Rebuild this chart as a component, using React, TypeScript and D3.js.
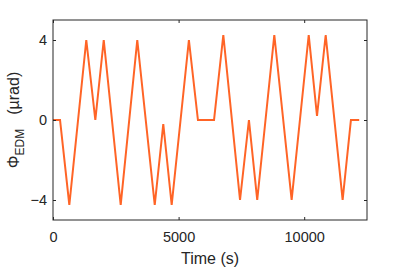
import React, { useEffect, useRef } from 'react';
import * as d3 from 'd3';

// turning points of the EDM phase ramp
const times = [0, 280, 650, 1325, 1685, 2020, 2695, 3355, 4050, 4390, 4725, 5410, 5770,
  6410, 6780, 7445, 7800, 8130, 8810, 9500, 10180, 10510, 10855, 11530, 11860, 12190];
const phase = [0, 0, -4.25, 4, 0, 4, -4.25, 4, -4.25, -0.2, -4.25, 4, 0,
  0, 4.25, -4, 0, -4, 4.25, -4, 4.25, 0.2, 4.25, -4, 0, 0];
const xTicks = [0, 5000, 10000];
const yTicks = [-4, 0, 4];

const App = () => {
  const ref = useRef<SVGSVGElement>(null);

  useEffect(() => {
    const width = 407;
    const height = 271;
    const margin = { top: 20, right: 40, bottom: 51, left: 53 };
    const w = width - margin.left - margin.right;
    const h = height - margin.top - margin.bottom;
    const axisColor = '#262626';
    const font = 'Liberation Sans, Arial, sans-serif';

    const root = d3.select(ref.current);
    root.selectAll('*').remove();
    const svg = root.append('g')
      .attr('transform', `translate(${margin.left},${margin.top})`);

    const x = d3.scaleLinear().domain([0, 12500]).range([0, w]);
    const y = d3.scaleLinear().domain([-5, 5]).range([h, 0]);

    const line = d3.line<number>()
      .x((d, i) => x(times[i]))
      .y(d => y(d));

    svg.append('path')
      .datum(phase)
      .attr('fill', 'none')
      .attr('stroke', '#ff6426')
      .attr('stroke-width', 2)
      .attr('stroke-linejoin', 'miter')
      .attr('d', line);

    const styleAxis = (g: any) => {
      g.select('.domain').remove();
      g.selectAll('line').attr('stroke', axisColor);
      g.selectAll('text')
        .attr('fill', axisColor)
        .attr('font-family', font)
        .attr('font-size', 14.5);
    };

    svg.append('g')
      .attr('transform', `translate(0,${h})`)
      .call(d3.axisBottom(x).tickValues(xTicks).tickFormat(d3.format('d')).tickSizeInner(-3).tickPadding(12))
      .call(styleAxis);
    svg.append('g')
      .call(d3.axisTop(x).tickValues(xTicks).tickFormat(() => '').tickSizeInner(-3))
      .call(styleAxis);
    svg.append('g')
      .call(d3.axisLeft(y).tickValues(yTicks).tickFormat(d3.format('d')).tickSizeInner(-3).tickPadding(6))
      .call(styleAxis);
    svg.append('g')
      .attr('transform', `translate(${w},0)`)
      .call(d3.axisRight(y).tickValues(yTicks).tickFormat(() => '').tickSizeInner(-3))
      .call(styleAxis);

    svg.append('rect')
      .attr('width', w)
      .attr('height', h)
      .attr('fill', 'none')
      .attr('stroke', axisColor)
      .attr('stroke-width', 1);

    svg.append('text')
      .attr('x', w / 2)
      .attr('y', h + 44)
      .attr('text-anchor', 'middle')
      .attr('font-family', font)
      .attr('font-size', 16)
      .attr('fill', axisColor)
      .text('Time (s)');

    const yl = root.append('text')
      .attr('transform', `translate(19,${margin.top + h / 2}) rotate(-90)`)
      .attr('text-anchor', 'middle')
      .attr('font-family', font)
      .attr('font-size', 16)
      .attr('fill', axisColor);
    yl.append('tspan').text('Φ');
    yl.append('tspan').attr('dy', 5).attr('font-size', 12).text('EDM');
    yl.append('tspan').attr('dy', -5).attr('dx', 14).text('(µrad)');
  }, []);

  return (
    <svg ref={ref} width={407} height={271}
      style={{ position: 'absolute', left: 0, top: 0, background: '#fff' }} />
  );
};

export default App;
